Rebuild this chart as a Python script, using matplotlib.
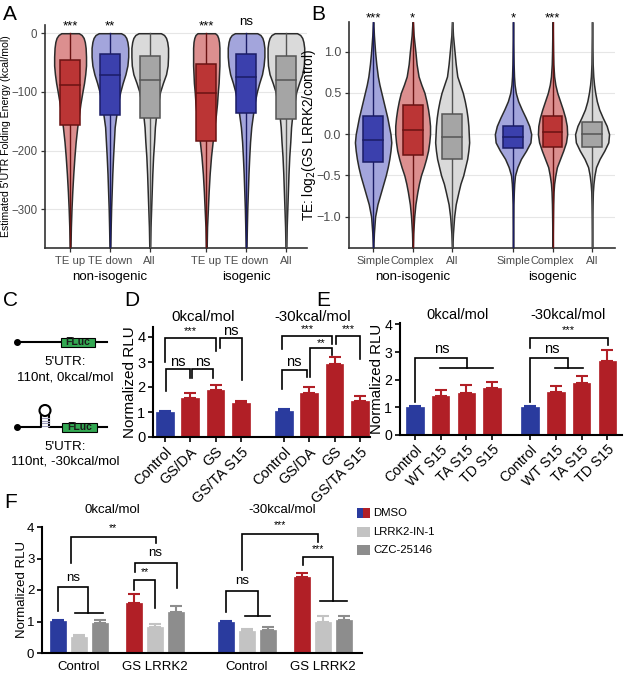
import matplotlib
matplotlib.use("Agg")
import matplotlib.pyplot as plt
from matplotlib.patches import Rectangle, Circle
import numpy as np

plt.rcParams['font.family'] = ['Liberation Sans', 'DejaVu Sans']

# ---------------- DATA ----------------
# Panel A: 5'UTR folding energy violins
A_cats = ["TE up", "TE down", "All", "TE up", "TE down", "All"]
A_groups = ["non-isogenic", "isogenic"]
A_kind = ["red", "blue", "grey", "red", "blue", "grey"]
A_levels = [0, -3, -8, -15, -25, -40, -55, -70, -85, -100, -120, -140, -160,
            -185, -210, -240, -270, -300, -330, -366]
A_widths = [
    [0.22, 0.29, 0.34, 0.37, 0.39, 0.40, 0.40, 0.38, 0.35, 0.31, 0.26, 0.22, 0.18, 0.14, 0.11, 0.08, 0.055, 0.035, 0.02, 0.01],
    [0.28, 0.36, 0.41, 0.44, 0.46, 0.46, 0.44, 0.39, 0.32, 0.26, 0.20, 0.16, 0.12, 0.10, 0.08, 0.06, 0.045, 0.03, 0.02, 0.01],
    [0.28, 0.36, 0.41, 0.44, 0.46, 0.46, 0.45, 0.41, 0.33, 0.26, 0.21, 0.16, 0.13, 0.11, 0.085, 0.065, 0.05, 0.035, 0.02, 0.01],
    [0.22, 0.27, 0.30, 0.32, 0.33, 0.33, 0.33, 0.32, 0.31, 0.29, 0.27, 0.24, 0.20, 0.16, 0.12, 0.085, 0.06, 0.04, 0.02, 0.01],
    [0.28, 0.36, 0.41, 0.44, 0.46, 0.46, 0.44, 0.40, 0.33, 0.27, 0.21, 0.17, 0.13, 0.10, 0.08, 0.06, 0.045, 0.03, 0.02, 0.01],
    [0.28, 0.36, 0.41, 0.44, 0.46, 0.46, 0.45, 0.41, 0.33, 0.26, 0.21, 0.16, 0.13, 0.11, 0.085, 0.065, 0.05, 0.035, 0.02, 0.01],
]
A_q1 = [-157, -139, -145, -184, -136, -146]
A_med = [-88, -72, -80, -102, -75, -80]
A_q3 = [-46, -36, -39, -52, -36, -39]
A_sig = ["***", "**", "", "***", "ns", ""]
A_yticks = [0, -100, -200, -300]

# Panel B: TE log2 fold change violins
B_cats = ["Simple", "Complex", "All", "Simple", "Complex", "All"]
B_groups = ["non-isogenic", "isogenic"]
B_kind = ["blue", "red", "grey", "blue", "red", "grey"]
B_levels = [1.36, 1.2, 1.0, 0.85, 0.7, 0.6, 0.5, 0.4, 0.3, 0.2, 0.1, 0.0, -0.1,
            -0.2, -0.3, -0.4, -0.5, -0.6, -0.7, -0.85, -1.0, -1.2, -1.38]
B_widths = [
    [0.005, 0.02, 0.05, 0.08, 0.12, 0.16, 0.21, 0.26, 0.31, 0.36, 0.40, 0.44, 0.46, 0.44, 0.41, 0.37, 0.32, 0.26, 0.20, 0.11, 0.05, 0.02, 0.005],
    [0.005, 0.025, 0.07, 0.10, 0.15, 0.22, 0.30, 0.35, 0.39, 0.42, 0.44, 0.44, 0.42, 0.39, 0.34, 0.28, 0.21, 0.16, 0.12, 0.07, 0.04, 0.015, 0.005],
    [0.005, 0.02, 0.06, 0.09, 0.13, 0.20, 0.27, 0.32, 0.36, 0.39, 0.41, 0.42, 0.43, 0.41, 0.38, 0.33, 0.28, 0.21, 0.16, 0.09, 0.05, 0.02, 0.005],
    [0.003, 0.005, 0.01, 0.015, 0.025, 0.04, 0.07, 0.13, 0.22, 0.32, 0.41, 0.46, 0.44, 0.33, 0.20, 0.11, 0.05, 0.03, 0.02, 0.01, 0.008, 0.005, 0.003],
    [0.003, 0.006, 0.012, 0.02, 0.04, 0.07, 0.12, 0.19, 0.26, 0.32, 0.36, 0.37, 0.34, 0.27, 0.19, 0.11, 0.07, 0.04, 0.025, 0.015, 0.01, 0.005, 0.003],
    [0.003, 0.005, 0.01, 0.015, 0.03, 0.05, 0.08, 0.12, 0.18, 0.27, 0.37, 0.43, 0.41, 0.31, 0.19, 0.10, 0.06, 0.035, 0.02, 0.012, 0.008, 0.005, 0.003],
]
B_q1 = [-0.34, -0.255, -0.30, -0.17, -0.15, -0.15]
B_med = [-0.07, 0.05, -0.03, -0.03, 0.03, 0.0]
B_q3 = [0.22, 0.35, 0.24, 0.10, 0.22, 0.15]
B_sig = ["***", "*", "", "*", "***", ""]
B_yticks = [1.0, 0.5, 0.0, -0.5, -1.0]

# Panel D: luciferase, LRRK2 variants
D_titles = ["0kcal/mol", "-30kcal/mol"]
D_labels = ["Control", "GS/DA", "GS", "GS/TA S15", "Control", "GS/DA", "GS", "GS/TA S15"]
D_vals = [1.00, 1.58, 1.90, 1.37, 1.06, 1.78, 2.91, 1.44]
D_err = [0.05, 0.17, 0.18, 0.07, 0.07, 0.22, 0.30, 0.21]
D_color = ["blue", "red", "red", "red", "blue", "red", "red", "red"]

# Panel E: luciferase, S15 mutants
E_titles = ["0kcal/mol", "-30kcal/mol"]
E_labels = ["Control", "WT S15", "TA S15", "TD S15", "Control", "WT S15", "TA S15", "TD S15"]
E_vals = [1.03, 1.40, 1.52, 1.71, 1.03, 1.57, 1.88, 2.68]
E_err = [0.03, 0.24, 0.30, 0.22, 0.03, 0.21, 0.26, 0.38]
E_color = ["blue", "red", "red", "red", "blue", "red", "red", "red"]

# Panel F: kinase inhibitors
F_titles = ["0kcal/mol", "-30kcal/mol"]
F_groups = ["Control", "GS LRRK2", "Control", "GS LRRK2"]
F_series = ["DMSO", "LRRK2-IN-1", "CZC-25146"]
F_dmso = [1.02, 1.60, 1.00, 2.42]
F_dmso_err = [0.03, 0.27, 0.03, 0.13]
F_in1 = [0.50, 0.84, 0.69, 0.99]
F_in1_err = [0.07, 0.08, 0.08, 0.18]
F_czc = [0.94, 1.31, 0.72, 1.05]
F_czc_err = [0.11, 0.19, 0.09, 0.13]

# ---------------- STYLE ----------------
VCOL = {"red": ("#dc8f8f", "#bb3535", "#6a1212"),
        "blue": ("#a3a5dc", "#3b40ad", "#1b1c66"),
        "grey": ("#dadada", "#a5a5a5", "#555555")}
BCOL = {"blue": "#2a3b9e", "red": "#b11f26"}
LGREY = "#c3c3c3"
DGREY = "#8d8d8d"

W, H = 625, 678
fig = plt.figure(figsize=(W / 100, H / 100), dpi=100)


def add_ax(l, t, r, b):
    return fig.add_axes([l / W, 1 - b / H, (r - l) / W, (b - t) / H])


def ftext(x, y, s, **kw):
    fig.text(x / W, 1 - y / H, s, **kw)


def violin_panel(ax, positions, levels, widths, q1, med, q3, kinds):
    lv = np.array(levels, dtype=float)
    for x, hw, a, m, c, k in zip(positions, widths, q1, med, q3, kinds):
        light, dark, edge = VCOL[k]
        hw = np.array(hw)
        ax.fill_betweenx(lv, x - hw, x + hw, facecolor=light, edgecolor="#2b2b2b",
                         lw=1.1, zorder=2)
        ax.plot([x, x], [lv.min(), lv.max()], color=edge, lw=1.0, zorder=3)
        bw = 0.25
        ax.add_patch(Rectangle((x - bw, a), 2 * bw, c - a, facecolor=dark,
                               edgecolor=edge, lw=1.1, zorder=4))
        ax.plot([x - bw, x + bw], [m, m], color=edge, lw=1.1, zorder=5)


def gg_axes(ax, xfs=8.3):
    for s in ["top", "right"]:
        ax.spines[s].set_visible(False)
    for s in ["left", "bottom"]:
        ax.spines[s].set_color("#333333")
        ax.spines[s].set_linewidth(1.2)
    ax.tick_params(colors="#333333", labelcolor="#4d4d4d", labelsize=8.3,
                   length=3, width=0.9, pad=2.5)
    ax.tick_params(axis="x", labelsize=xfs)
    ax.yaxis.grid(True, color="#e6e6e6", lw=0.8)
    ax.set_axisbelow(True)


# ---------------- PANEL A ----------------
axA = add_ax(45, 25, 307, 248)
A_pos = [1, 2, 3, 4.42, 5.42, 6.42]
violin_panel(axA, A_pos, A_levels, A_widths, A_q1, A_med, A_q3, A_kind)
axA.set_xlim(0.37, 6.95)
axA.set_ylim(-366, 14)
axA.set_yticks(A_yticks)
axA.set_xticks(A_pos)
axA.set_xticklabels(A_cats)
gg_axes(axA, xfs=8.1)
axA.set_ylabel("Estimated 5'UTR Folding Energy (kcal/mol)", fontsize=7.6)
axA.yaxis.set_label_coords(-0.13, 0.5)
for x, s in zip(A_pos, A_sig):
    if s:
        yy = 19 if s == "ns" else 12
        axA.text(x, yy, s, ha="center", va="center", fontsize=9.5, clip_on=False)
for gx, g in zip([2, 5.42], A_groups):
    axA.text(gx, -0.13, g, ha="center", va="center", fontsize=9.5,
             transform=axA.get_xaxis_transform())

# ---------------- PANEL B ----------------
axB = add_ax(349, 22, 615, 248)
B_pos = [1, 2, 3, 4.54, 5.54, 6.54]
violin_panel(axB, B_pos, B_levels, B_widths, B_q1, B_med, B_q3, B_kind)
axB.set_xlim(0.39, 7.12)
axB.set_ylim(-1.38, 1.36)
axB.set_yticks(B_yticks)
axB.set_yticklabels(["1.0", "0.5", "0.0", "\u22120.5", "\u22121.0"])
axB.set_xticks(B_pos)
axB.set_xticklabels(B_cats)
gg_axes(axB, xfs=7.9)
axB.tick_params(axis="y", labelsize=9)
axB.set_ylabel("TE: log$_2$(GS LRRK2/control)", fontsize=9.8)
axB.yaxis.set_label_coords(-0.118, 0.5)
for x, s in zip(B_pos, B_sig):
    if s:
        axB.text(x, 1.40, s, ha="center", va="center", fontsize=9.5, clip_on=False)
for gx, g in zip([2, 5.54], B_groups):
    axB.text(gx, -0.13, g, ha="center", va="center", fontsize=9.5,
             transform=axB.get_xaxis_transform())

# ---------------- PANEL C ----------------
axC = add_ax(0, 310, 130, 480)
axC.set_xlim(0, 130)
axC.set_ylim(480, 310)
axC.axis("off")
axC.plot([17, 107], [342, 342], color="k", lw=1.5, zorder=1)
axC.plot([17], [342], "o", color="k", ms=4)
axC.add_patch(Rectangle((61, 337.5), 34, 9, fc="#33a852", ec="k", lw=0.8, zorder=2))
axC.text(78, 342, "FLuc", ha="center", va="center", fontsize=7.5, fontweight="bold",
         color="#1a1a1a", zorder=3)
axC.text(65, 362, "5'UTR:", ha="center", va="center", fontsize=9.6)
axC.text(65, 377, "110nt, 0kcal/mol", ha="center", va="center", fontsize=9.6)
yb = 427
axC.plot([17, 41, 41], [yb, yb, 415.5], color="k", lw=1.5)
axC.plot([49, 49, 107], [415.5, yb, yb], color="k", lw=1.5)
for yy in [418, 420.5, 423, 425.5]:
    axC.plot([41.5, 48.5], [yy, yy], color="#9a9ab8", lw=0.8)
axC.add_patch(Circle((45, 410.5), 5.5, fill=False, ec="k", lw=1.5))
axC.plot([17], [yb], "o", color="k", ms=4)
axC.add_patch(Rectangle((62, 422.5), 35, 9, fc="#33a852", ec="k", lw=0.8, zorder=2))
axC.text(79.5, 427, "FLuc", ha="center", va="center", fontsize=7.5, fontweight="bold",
         color="#1a1a1a", zorder=3)
axC.text(65, 447, "5'UTR:", ha="center", va="center", fontsize=9.6)
axC.text(65, 462, "110nt, -30kcal/mol", ha="center", va="center", fontsize=9.6)


# ---------------- prism helpers ----------------
def prism_axes(ax, fs_tick=10, fs_lab=10.5, xlab=-0.07):
    for s in ["top", "right"]:
        ax.spines[s].set_visible(False)
    for s in ["left", "bottom"]:
        ax.spines[s].set_linewidth(1.5)
    ax.tick_params(direction="out", length=3.5, width=1.2, labelsize=fs_tick, pad=2)
    ax.set_ylabel("Normalized RLU", fontsize=fs_lab)
    ax.yaxis.set_label_coords(xlab, 0.5)


def bars(ax, xs, vals, errs, colors, width):
    for x, v, e, c in zip(xs, vals, errs, colors):
        ax.bar(x, v, width=width, color=c, edgecolor=c, lw=0.5, zorder=2)
        ax.errorbar(x, v, yerr=[[0], [e]], fmt="none", ecolor=c, elinewidth=1.5,
                    capsize=4, capthick=1.5, zorder=3)


def bracket(ax, x1, x2, ytop, y1, y2, label, ly, lx=None, hbar=None, fns=10.5, fst=8):
    ax.plot([x1, x1, x2, x2], [y1, ytop, ytop, y2], color="k", lw=1.2,
            clip_on=False, zorder=4, solid_joinstyle="miter")
    if hbar is not None:
        ax.plot(hbar, [y2, y2], color="k", lw=1.2, clip_on=False, zorder=4)
    lx = (x1 + x2) / 2 if lx is None else lx
    fs = fns if label == "ns" else fst
    ax.text(lx, ly, label, ha="center", va="center", fontsize=fs, clip_on=False)


# ---------------- PANEL D ----------------
axD = add_ax(153, 327, 370, 437)
D_pos = [0, 1, 2, 3, 4.7, 5.7, 6.7, 7.7]
bars(axD, D_pos, D_vals, D_err, [BCOL[c] for c in D_color], 0.7)
axD.set_xlim(-0.47, 8.1)
axD.set_ylim(0, 4.4)
axD.set_yticks([0, 1, 2, 3, 4])
axD.set_xticks(D_pos)
axD.set_xticklabels(D_labels, rotation=45, ha="right", rotation_mode="anchor")
prism_axes(axD, fs_tick=10.5, fs_lab=11, xlab=-0.075)
bracket(axD, 0.0, 2.0, 3.96, 3.0, 3.44, "***", 4.22)
bracket(axD, 2.17, 3.04, 3.96, 3.55, 2.3, "ns", 4.25)
bracket(axD, 0.04, 0.98, 2.73, 1.85, 2.37, "ns", 3.02)
bracket(axD, 1.07, 1.9, 2.73, 2.37, 2.37, "ns", 3.02)
bracket(axD, 4.62, 6.6, 4.05, 3.51, 3.73, "***", 4.3)
bracket(axD, 4.62, 5.6, 2.69, 1.92, 2.4, "ns", 3.0)
bracket(axD, 5.72, 6.6, 3.55, 2.4, 3.28, "**", 3.75)
bracket(axD, 6.76, 7.7, 4.05, 3.73, 3.14, "***", 4.3)
ftext(203, 317, D_titles[0], ha="center", va="center", fontsize=10.8)
ftext(313, 317, D_titles[1], ha="center", va="center", fontsize=10.8)

# ---------------- PANEL E ----------------
axE = add_ax(400, 323, 622, 435)
E_pos = [0, 1, 2, 3, 4.48, 5.48, 6.48, 7.48]
bars(axE, E_pos, E_vals, E_err, [BCOL[c] for c in E_color], 0.68)
axE.set_xlim(-0.58, 8.05)
axE.set_ylim(0, 4.05)
axE.set_yticks([0, 1, 2, 3, 4])
axE.set_xticks(E_pos)
axE.set_xticklabels(E_labels, rotation=45, ha="right", rotation_mode="anchor")
prism_axes(axE, fs_tick=10.2, fs_lab=10.8, xlab=-0.072)
bracket(axE, 0.0, 2.02, 2.77, 1.19, 2.44, "ns", 3.1, lx=1.05, hbar=[0.97, 3.03])
bracket(axE, 4.48, 5.95, 2.77, 1.19, 2.44, "ns", 3.1, lx=5.33, hbar=[5.45, 6.54])
bracket(axE, 4.48, 7.51, 3.51, 3.15, 3.27, "***", 3.78, lx=5.95)
ftext(458, 315, E_titles[0], ha="center", va="center", fontsize=10.5)
ftext(568, 315, E_titles[1], ha="center", va="center", fontsize=10.5)

# ---------------- PANEL F ----------------
axF = add_ax(42, 527, 362, 653)
F_centers = [0, 3.62, 8.0, 11.62]
fw = 0.76
for off, vals, errs, col in [(-1, F_dmso, F_dmso_err, None),
                             (0, F_in1, F_in1_err, LGREY),
                             (1, F_czc, F_czc_err, DGREY)]:
    xs = [c + off for c in F_centers]
    if col is None:
        cols = [BCOL["blue"], BCOL["red"], BCOL["blue"], BCOL["red"]]
    else:
        cols = [col] * 4
    bars(axF, xs, vals, errs, cols, fw)
axF.set_xlim(-1.76, 13.48)
axF.set_ylim(0, 4)
axF.set_yticks([0, 1, 2, 3, 4])
axF.set_xticks(F_centers)
axF.set_xticklabels(F_groups)
prism_axes(axF, fs_tick=9.5, fs_lab=9.5, xlab=-0.045)
axF.tick_params(axis="x", length=0, pad=6)
kw = dict(fns=9.5, fst=7.5)
bracket(axF, -1.0, 0.43, 2.08, 1.34, 1.28, "ns", 2.37, lx=-0.29, hbar=[-0.19, 1.14], **kw)
bracket(axF, -0.38, 3.67, 3.69, 2.86, 3.5, "**", 3.98, lx=1.64, **kw)
bracket(axF, 2.67, 4.67, 2.85, 2.58, 2.05, "ns", 3.16, lx=3.64, **kw)
bracket(axF, 2.62, 3.62, 2.32, 2.0, 1.43, "**", 2.56, lx=3.12, **kw)
bracket(axF, 7.0, 8.52, 1.97, 1.31, 1.17, "ns", 2.29, lx=7.76, hbar=[7.9, 9.1], **kw)
bracket(axF, 7.76, 11.38, 3.78, 2.63, 3.53, "***", 4.06, lx=9.57, **kw)
bracket(axF, 10.67, 12.1, 3.04, 2.79, 1.66, "***", 3.3, lx=11.38, hbar=[11.48, 12.76], **kw)
ftext(112, 510, F_titles[0], ha="center", va="center", fontsize=9.5)
ftext(282, 510, F_titles[1], ha="center", va="center", fontsize=9.5)

# legend (manual)
axL = add_ax(355, 505, 470, 560)
axL.set_xlim(355, 470)
axL.set_ylim(560, 505)
axL.axis("off")
for yc, name, cols in [(513, F_series[0], [BCOL["blue"], BCOL["red"]]),
                       (532, F_series[1], [LGREY]),
                       (550, F_series[2], [DGREY])]:
    n = len(cols)
    for i, c in enumerate(cols):
        axL.add_patch(Rectangle((357 + i * 13 / n, yc - 5), 13 / n, 10, fc=c, ec="none"))
    axL.text(373, yc, name, ha="left", va="center", fontsize=8.2)

# panel letters
for x, y, s in [(3, 14, "A"), (311, 14, "B"), (3, 300, "C"), (124, 300, "D"),
                (316, 300, "E"), (4, 502, "F")]:
    ftext(x, y, s, ha="left", va="center", fontsize=15)

fig.savefig("out.png", dpi=100)
